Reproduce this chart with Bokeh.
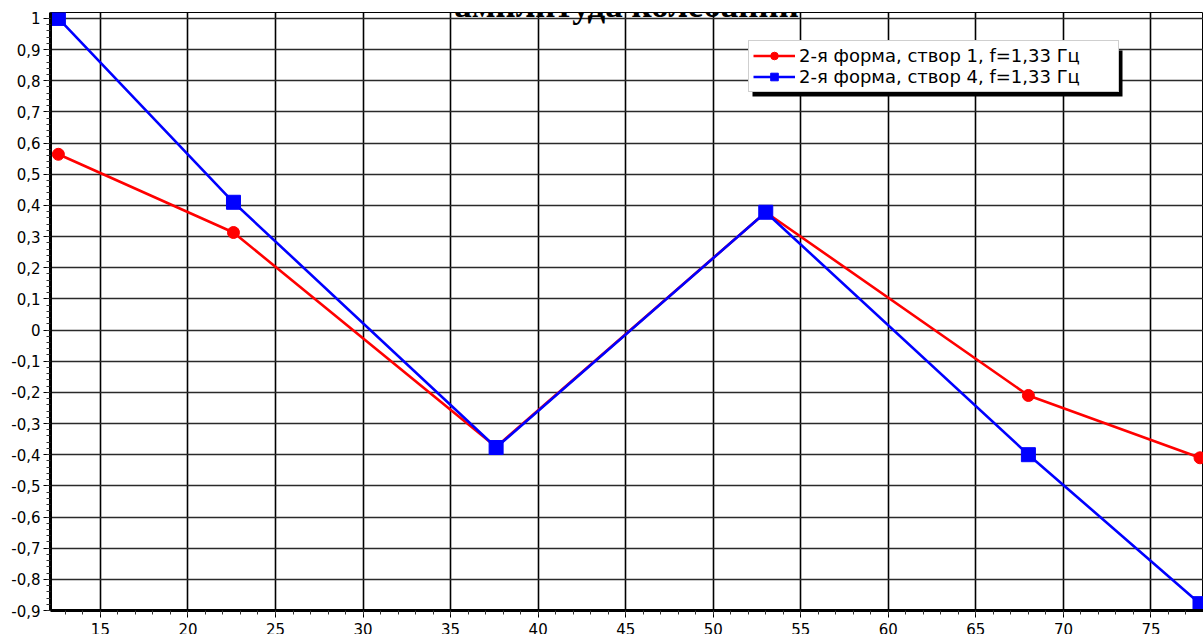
from bokeh.plotting import figure
from bokeh.models import (Range1d, FixedTicker, CustomJSTickFormatter, Legend, LegendItem,
                          BoxAnnotation, Label, GlobalInlineStyleSheet)
from bokeh.embed import file_html
from bokeh.resources import INLINE

# ---- data ----
x_pos = [12.6, 22.6, 37.6, 53.0, 68.0, 77.8]
red_vals = [0.564, 0.313, -0.375, 0.378, -0.21, -0.41]
blue_vals = [1.0, 0.41, -0.377, 0.378, -0.40, -0.878]
series_names = ["2-я форма, створ 1, f=1,33 Гц", "2-я форма, створ 4, f=1,33 Гц"]
title_text = "амплитуда колебаний"
x_ticks = [15, 20, 25, 30, 35, 40, 45, 50, 55, 60, 65, 70, 75]
y_ticks = [-0.9, -0.8, -0.7, -0.6, -0.5, -0.4, -0.3, -0.2, -0.1, 0.0,
           0.1, 0.2, 0.3, 0.4, 0.5, 0.6, 0.7, 0.8, 0.9, 1.0]

W, H = 1203, 640

p = figure(width=W, height=H, output_backend="svg", toolbar_location=None,
           x_range=Range1d(12.15, 78.0), y_range=Range1d(-0.9, 1.019),
           min_border_left=50, min_border_right=0, min_border_top=12, min_border_bottom=30)
p.stylesheets = [GlobalInlineStyleSheet(css="html,body{margin:0;padding:0;overflow:hidden;background:#fff}")]
p.background_fill_color = "white"
p.border_fill_color = "white"
p.outline_line_color = "black"
p.outline_line_width = 1

xt = FixedTicker(ticks=x_ticks, minor_ticks=list(range(13, 79)))
yt = FixedTicker(ticks=y_ticks, minor_ticks=[round(-0.9 + 0.02 * i, 2) for i in range(97)])
p.xaxis.ticker = xt
p.yaxis.ticker = yt
p.xgrid.ticker = xt
p.ygrid.ticker = yt

fmt = CustomJSTickFormatter(code="""
let s;
if (Math.abs(tick) < 1e-9) s = "0";
else if (Math.abs(tick - Math.round(tick)) < 1e-9) s = tick.toFixed(0);
else s = tick.toFixed(1);
return s.replace('.', ',');
""")
p.yaxis.formatter = fmt

for ax in (p.xaxis, p.yaxis):
    ax.axis_line_color = "black"
    ax.axis_line_width = 3
    ax.major_tick_line_color = "black"
    ax.major_tick_line_width = 1
    ax.major_tick_out = 7
    ax.major_tick_in = 0
    ax.minor_tick_line_color = "#333333"
    ax.minor_tick_line_width = 1
    ax.minor_tick_out = 4
    ax.minor_tick_in = 0
    ax.major_label_text_font = "DejaVu Sans"
    ax.major_label_text_font_size = "15px"
    ax.major_label_text_color = "black"
p.xaxis.major_label_standoff = 5
p.yaxis.major_label_standoff = 3

p.xgrid.grid_line_color = "black"
p.xgrid.grid_line_width = 1.6
p.ygrid.grid_line_color = "#2a2a2a"
p.ygrid.grid_line_width = 1.4

r_line = p.line(x_pos, red_vals, line_color="#ff0000", line_width=2.6)
r_pts = p.scatter(x_pos, red_vals, marker="circle", size=12, fill_color="#ff0000", line_color="#ff0000")
b_line = p.line(x_pos, blue_vals, line_color="#0000ff", line_width=2.6)
b_pts = p.scatter(x_pos, blue_vals, marker="square", size=14, fill_color="#0000ff", line_color="#0000ff")

# legend shadow
shadow = BoxAnnotation(left=752, right=1122, top=50, bottom=96,
                       left_units="canvas", right_units="canvas",
                       top_units="canvas", bottom_units="canvas",
                       fill_color="black", fill_alpha=1.0, line_color=None)
p.add_layout(shadow)

legend = Legend(items=[LegendItem(label=series_names[0], renderers=[r_line, r_pts]),
                       LegendItem(label=series_names[1], renderers=[b_line, b_pts])],
                location=(698, 518), margin=0, padding=4, spacing=0,
                glyph_width=42, glyph_height=19, label_standoff=4,
                label_text_font="DejaVu Sans", label_text_font_size="18px",
                label_text_color="black", label_height=19, label_width=315,
                border_line_color="#a0a0a0", border_line_width=1,
                background_fill_color="white", background_fill_alpha=1.0)
p.add_layout(legend)

title = Label(x=626, y=5, x_units="canvas", y_units="canvas", text=title_text,
              text_font="Liberation Serif", text_font_style="bold", text_font_size="35px",
              text_align="center", text_baseline="alphabetic", text_color="black")
p.add_layout(title)

open("out.html", "w").write(file_html(p, INLINE))
